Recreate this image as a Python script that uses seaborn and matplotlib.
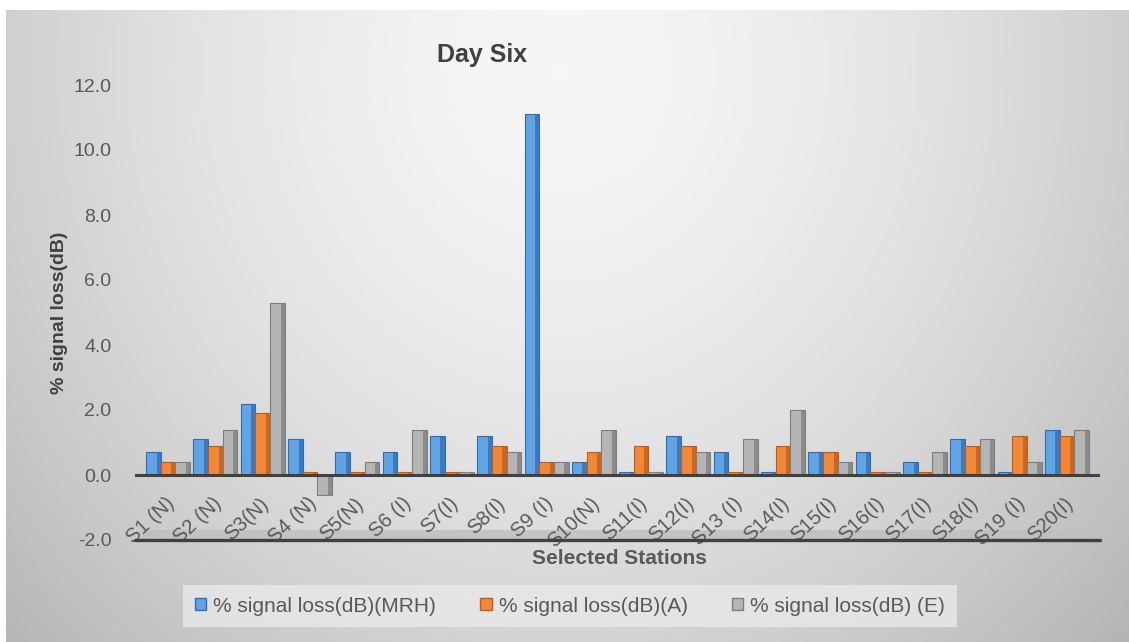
import numpy as np
import pandas as pd
import matplotlib
matplotlib.use("Agg")
import matplotlib.pyplot as plt
from matplotlib.patches import Rectangle
import seaborn as sns

# Data
stations = ["S1 (N)", "S2 (N)", "S3(N)", "S4 (N)", "S5(N)", "S6 (I)", "S7(I)",
            "S8(I)", "S9 (I)", "S10(N)", "S11(I)", "S12(I)", "S13 (I)", "S14(I)",
            "S15(I)", "S16(I)", "S17(I)", "S18(I)", "S19 (I)", "S20(I)"]
loss_mrh = [0.7, 1.1, 2.2, 1.1, 0.7, 0.7, 1.2, 1.2, 11.1, 0.4,
            0.1, 1.2, 0.7, 0.1, 0.7, 0.7, 0.4, 1.1, 0.1, 1.4]
loss_a = [0.4, 0.9, 1.9, 0.1, 0.1, 0.1, 0.1, 0.9, 0.4, 0.7,
          0.9, 0.9, 0.1, 0.9, 0.7, 0.1, 0.1, 0.9, 1.2, 1.2]
loss_e = [0.4, 1.4, 5.3, -0.6, 0.4, 1.4, 0.1, 0.7, 0.4, 1.4,
          0.1, 0.7, 1.1, 2.0, 0.4, 0.1, 0.7, 1.1, 0.4, 1.4]
series_names = ["% signal loss(dB)(MRH)", "% signal loss(dB)(A)", "% signal loss(dB) (E)"]
y_ticks = [-2, 0, 2, 4, 6, 8, 10, 12]

df = pd.DataFrame({
    "station": stations * 3,
    "value": loss_mrh + loss_a + loss_e,
    "series": [series_names[0]] * 20 + [series_names[1]] * 20 + [series_names[2]] * 20,
})

face_colors = ["#62a3e3", "#f0883c", "#b5b5b5"]
side_colors = ["#2e6db4", "#c25a14", "#7e7e7e"]

sns.set_style("white")
plt.rcParams["font.family"] = ["Liberation Sans", "DejaVu Sans"]

W, H = 1129, 642
fig = plt.figure(figsize=(W / 100, H / 100), dpi=100)

# Soft radial background panel
bg = fig.add_axes([0, 0, 1, 1], zorder=-10)
yy, xx = np.mgrid[0:H, 0:W]
d = np.sqrt(((xx - 560) / 660.0) ** 2 + ((yy - 70) / 720.0) ** 2)
shade = np.clip(0.965 - 0.2 * d ** 1.6, 0, 1)
img = np.dstack([shade, shade, shade])
img[:10, :, :] = 1.0
img[:, :6, :] = 1.0
bg.imshow(img, extent=(0, 1, 0, 1), aspect="auto", interpolation="bilinear")
bg.set_axis_off()

ax = fig.add_axes([135 / W, (H - 540) / H, 965 / W, 455 / H])
ax.patch.set_alpha(0)

sns.barplot(data=df, x="station", y="value", hue="series", palette=face_colors,
            width=0.93, ax=ax, saturation=1, legend=True, zorder=3)

# Darker side strip and edge on every bar for a raised look
for cont, side in zip(ax.containers, side_colors):
    for p in cont.patches:
        p.set_edgecolor(side)
        p.set_linewidth(0.8)
        x0, w, h = p.get_x(), p.get_width(), p.get_height()
        y0 = p.get_y()
        ax.add_patch(Rectangle((x0 + w * 0.72, y0), w * 0.28, h,
                               facecolor=side, edgecolor="none", alpha=0.75, zorder=4))

ax.set_xlim(-0.7, 19.7)
ax.set_ylim(-2, 12)
ax.set_yticks(y_ticks)
ax.set_yticklabels([f"{v:.1f}" for v in y_ticks], fontsize=14, color="#595959")
ax.tick_params(axis="y", length=0, pad=17)
ax.set_xticks([])
ax.set_xlabel("")
ax.set_ylabel("")
for s in ax.spines.values():
    s.set_visible(False)

# Baseline, floor edge and floor shading
ax.axhline(0, color="#404040", lw=2.2, zorder=5)
ax.axhline(-2, color="#404040", lw=2.4, zorder=5, clip_on=False)
ax.fill_between([-0.55, 19.55], -2, -1.7, color="#c0c0c0", alpha=0.85, zorder=1, lw=0)

# Category labels along the floor
offset = matplotlib.transforms.offset_copy(ax.transData, fig=fig, x=-3, y=-19, units="dots")
for i, name in enumerate(stations):
    ax.text(i, 0, name, transform=offset, rotation=43, rotation_mode="anchor",
            ha="right", va="top", fontsize=14.5, color="#595959")

fig.text(482 / W, 1 - 55 / H, "Day Six", ha="center", va="center",
         fontsize=18, fontweight="bold", color="#404040")
fig.text(619 / W, 1 - 558 / H, "Selected Stations", ha="center", va="center",
         fontsize=15, fontweight="bold", color="#595959")
fig.text(59 / W, 1 - 313 / H, "% signal loss(dB)", ha="center", va="center",
         rotation=90, fontsize=14, fontweight="bold", color="#404040")

handles, labels = ax.get_legend_handles_labels()
ax.legend_.remove()
for h, side in zip(handles, side_colors):
    h.set_edgecolor(side)
    h.set_linewidth(1.0)
leg = fig.legend(handles, labels, loc="center", bbox_to_anchor=(570 / W, 1 - 606 / H),
                 ncol=3, fontsize=15, frameon=True, fancybox=False,
                 handlelength=0.55, handleheight=0.55, handletextpad=0.35,
                 columnspacing=2.1, borderpad=0.55, borderaxespad=0.0,
                 labelcolor="#595959")
leg.get_frame().set_facecolor("#e9e9e9")
leg.get_frame().set_edgecolor("none")
leg.get_frame().set_alpha(0.8)

fig.savefig("out.png", dpi=100)
